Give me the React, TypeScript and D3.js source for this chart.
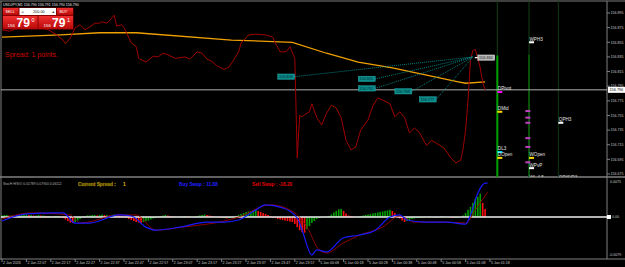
import React from "react";
import * as d3 from "d3";

// ---------- DATA ----------
const symbolTitle = "USDJPY,M1  156.790 156.791 156.790 156.790";
const bidPrice = "156.790";
const askPrice = "156.791";
const lotSize = "200.00";
const spreadText = "Spread: 1 points.";

// close line (bar index, price)
const priceBars = [0,3,7,11,15,19,22,25,26,28,30,32,34,36,38,40,41,43,45,46,47,49,50,51,53,55,56,59,62,64,66,68,71,75,77,80,82,84,86,88,91,93,95,97,98,100,101,104,108,111,112,114,116,117,118,120,121,122,123,124,126,127,129,131,133,135,137,139,141,143,145,147,150,152,154,156,159,161,163,165,167,169,171,174,176,178,181,184,186,188,189,190,191,192,193,194,195,196,197,198];
const priceClose = [156.872,156.870,156.875,156.877,156.876,156.872,156.866,156.858,156.853,156.861,156.875,156.879,156.872,156.876,156.881,156.881,156.883,156.881,156.888,156.892,156.877,156.879,156.875,156.868,156.854,156.849,156.833,156.828,156.836,156.835,156.840,156.838,156.833,156.835,156.832,156.842,156.840,156.832,156.829,156.823,156.818,156.821,156.831,156.842,156.854,156.861,156.865,156.866,156.865,156.862,156.854,156.842,156.842,156.844,156.849,156.833,156.697,156.755,156.753,156.756,156.760,156.771,156.752,156.742,156.758,156.769,156.765,156.752,156.721,156.708,156.712,156.735,156.749,156.768,156.779,156.776,156.771,156.753,156.760,156.752,156.731,156.738,156.732,156.714,156.721,156.717,156.711,156.697,156.690,156.694,156.710,156.735,156.776,156.831,156.844,156.845,156.833,156.820,156.800,156.790];

// moving average
const maBars = [0,24,40,55,94,119,133,146,160,174,187,190,198];
const maValues = [156.862,156.865,156.868,156.868,156.858,156.855,156.840,156.828,156.820,156.810,156.801,156.799,156.801];

const axisPrices = [156.895,156.875,156.855,156.835,156.815,156.795,156.775,156.755,156.735,156.715,156.695,156.675];
const currentPrice = 156.790;

const timeLabels = ["2 Jan 2026","2 Jan 22:07","2 Jan 22:17","2 Jan 22:27","2 Jan 22:37","2 Jan 22:47","2 Jan 22:57","2 Jan 23:07","2 Jan 23:17","2 Jan 23:27","2 Jan 23:37","2 Jan 23:47","2 Jan 23:57","5 Jan 00:08","5 Jan 00:18","5 Jan 00:28","5 Jan 00:38","5 Jan 00:48","5 Jan 00:58","5 Jan 01:08","5 Jan 01:18"];
const timeLabelBars = [0,10,20,30,40,50,60,70,80,90,100,110,120,130,140,150,160,170,180,190,200];

// teal fan labels
const fanBars = [113,146,146,161,171];
const fanPrices = [156.808,156.805,156.792,156.788,156.777];
const fanTargetBar = 193;
const fanTargetPrice = 156.835;
const markBar = 195;
const markPrice = 156.834;

// pivot levels
const pivotNames = ["DPivot","DMid","DL3","DOpen","WPH3","WOpen","WPvP","QPH3"];
const pivotPrices = [156.787,156.760,156.705,156.697,156.855,156.697,156.683,156.745];
const pivotCols = [203,203,203,203,216,216,216,228];
const pivotColors = ["#ff00ff","#ffd700","#00e5ff","#ffd700","#ffffff","#ffd700","#ffffff","#ffffff"];
const extraMarkPrices = [156.761,156.752,156.745,156.724,156.712,156.691];
const extraMarkCol = 214.5;
const separatorCols = [203,216,228];

// oscillator (units of 0.0001)
const oscHeader = "StocH H/S/O 0.01789 0.07900 0.06112";
const spreadLabel = "Current Spread :";
const spreadValue = "1";
const buySwap = "Buy Swap :  11.88";
const sellSwap = "Sell Swap :  -18.20";
const blueBars = [0,10,22,25,30,36,48,53,59,63,73,84,91,97,104,108,115,121,123,127,129,133,140,146,153,159,163,166,173,182,190,192,195,198,199];
const blueVals = [-8,6,8,8,-12,-12,4,2,-20,-26,-20,-10,-10,-6,14,24,18,-2,-26,-75,-65,-69,-41,-36,-26,0,4,-6,-10,-10,-14,4,47,67,67];
const redBars = [0,12,28,32,48,55,63,74,91,97,110,120,125,130,133,140,146,156,163,169,182,190,194,199];
const redVals = [-4,8,4,-12,4,4,-26,-20,-8,0,24,8,-20,-65,-71,-51,-37,-20,2,-10,-10,-12,14,49];
const histogram = [
  3,4,4,3,3,2,2,3,4,5,5,4,4,3,3,4,3,3,2,2,1,1,2,2,1,
  -2,-5,-8,-11,-12,-10,-7,-4,
  1,2,3,3,4,4,3,4,5,4,4,3,4,5,4,3,2,1,
  -2,-4,-6,-8,-10,-11,-12,
  -10,-8,-7,-5,-3,-2,
  1,2,3,4,3,2,1,1,0,1,1,2,1,1,0,1,
  2,3,4,5,4,3,2,1,0,
  -1,-2,-2,-3,-2,-1,0,
  2,4,6,8,10,11,12,13,14,
  12,10,8,6,4,2,
  -1,-2,-4,-5,-6,-7,-8,-9,-10,
  -14,-20,-26,-30,-31,
  -24,-18,-12,-8,-4,
  -2,-1,0,1,2,
  5,9,12,15,16,12,7,
  3,2,1,0,
  1,2,3,4,5,6,7,8,9,10,11,12,13,14,
  12,8,
  2,-3,-7,-10,-8,-6,-4,
  -3,-2,-2,-1,-1,0,1,0,-1,-1,0,1,1,0,0,-1,-2,-2,-1,0,
  3,8,14,20,28,36,40,46,28,16
];
const oscTopLabel = "0.0075";
const oscZeroLabel = "0.00";
const oscBottomLabel = "-0.0079";

const FONT = "'Liberation Sans', Arial, sans-serif";

export default function App() {
  const x = d3.scaleLinear().domain([0, 200]).range([2, 490]);
  const yP = d3.scaleLinear().domain([156.675, 156.895]).range([174, 13]);
  const yO = d3.scaleLinear().domain([-0.0079, 0.0075]).range([257, 179]);

  const priceLine = d3.line<number>().x((_, i) => x(priceBars[i])).y((d) => yP(d))(priceClose) || "";
  const maLine = d3.line<number>().x((_, i) => x(maBars[i])).y((d) => yP(d))(maValues) || "";
  const blueLine = d3.line<number>().x((_, i) => x(blueBars[i])).y((d) => yO(d * 1e-4)).curve(d3.curveMonotoneX)(blueVals) || "";
  const redLine = d3.line<number>().x((_, i) => x(redBars[i])).y((d) => yO(d * 1e-4)).curve(d3.curveMonotoneX)(redVals) || "";

  const axisX = 607;
  const mainBottom = 177;
  const zeroY = yO(0);

  return (
    <svg width={625} height={267} style={{ position: "fixed", left: 0, top: 0, display: "block", background: "#000" }} fontFamily={FONT}>
      <defs>
        <clipPath id="mainClip"><rect x={1} y={1} width={606} height={176} /></clipPath>
        <clipPath id="oscClip"><rect x={1} y={179} width={606} height={79} /></clipPath>
        <linearGradient id="redGrad" x1="0" y1="0" x2="0" y2="1">
          <stop offset="0" stopColor="#f03030" />
          <stop offset="1" stopColor="#b80808" />
        </linearGradient>
      </defs>
      <rect x={0} y={0} width={625} height={267} fill="#000" />

      {/* frame */}
      <line x1={0} x2={625} y1={1} y2={1} stroke="#555" strokeWidth={1.5} />
      <line x1={1} x2={1} y1={1} y2={259} stroke="#808080" strokeWidth={1} />
      <line x1={axisX} x2={axisX} y1={1} y2={259} stroke="#808080" strokeWidth={1} />
      <line x1={0} x2={625} y1={mainBottom} y2={mainBottom} stroke="#808080" strokeWidth={1.5} />
      <line x1={0} x2={625} y1={259} y2={259} stroke="#808080" strokeWidth={1} />

      {/* price axis */}
      {axisPrices.map((p, i) => (
        <g key={"pa" + i}>
          <line x1={axisX} x2={axisX + 3} y1={yP(p)} y2={yP(p)} stroke="#808080" />
          <text x={axisX + 3.5} y={yP(p) + 1.3} fontSize={3.6} fill="#c8c8c8">{p.toFixed(3)}</text>
        </g>
      ))}

      <g clipPath="url(#mainClip)">
        {/* separators */}
        {separatorCols.map((c, i) => (
          <line key={"sep" + i} x1={x(c)} x2={x(c)} y1={1} y2={mainBottom} stroke={i === 2 ? "#0c3a0c" : "#124012"} strokeWidth={1} />
        ))}
        <line x1={x(separatorCols[0])} x2={x(separatorCols[0])} y1={yP(156.837)} y2={mainBottom} stroke="#00a000" strokeWidth={2} />
        <line x1={x(separatorCols[1])} x2={x(separatorCols[1])} y1={yP(156.838)} y2={mainBottom} stroke="#0a700a" strokeWidth={1.3} />

        {/* current price line */}
        <line x1={1} x2={axisX} y1={yP(currentPrice)} y2={yP(currentPrice)} stroke="#b0b0b0" strokeWidth={1} />

        {/* price and MA */}
        <path d={maLine} fill="none" stroke="#f0a000" strokeWidth={1.3} />
        <path d={priceLine} fill="none" stroke="#a00000" strokeWidth={1} />

        {/* teal fan */}
        {fanBars.map((b, i) => {
          const bx = x(b);
          const by = yP(fanPrices[i]);
          return (
            <g key={"fan" + i}>
              <line x1={bx + 17} y1={by} x2={x(fanTargetBar)} y2={yP(fanTargetPrice)} stroke="#00a0a0" strokeWidth={0.8} strokeDasharray="1,1" />
              <rect x={bx} y={by - 2.7} width={17} height={5.4} fill="#0a8c8c" stroke="#30b0b0" strokeWidth={0.4} />
              <text x={bx + 1.2} y={by + 1.3} fontSize={3.8} fill="#002a2a">{fanPrices[i].toFixed(3)}</text>
            </g>
          );
        })}
        <line x1={x(markBar) - 3} x2={x(markBar)} y1={yP(markPrice)} y2={yP(markPrice)} stroke="#ffffff" strokeWidth={1.2} />
        <rect x={x(markBar)} y={yP(markPrice) - 2.7} width={17} height={5.4} fill="#b8b8b8" stroke="#e0e0e0" strokeWidth={0.4} />
        <text x={x(markBar) + 1.2} y={yP(markPrice) + 1.3} fontSize={3.8} fill="#202020">{markPrice.toFixed(3)}</text>

        {/* pivots */}
        {extraMarkPrices.map((p, i) => (
          <rect key={"em" + i} x={x(extraMarkCol)} y={yP(p) - 1} width={5} height={2} fill="#c040c0" />
        ))}
        {pivotNames.map((n, i) => (
          <g key={"pv" + i}>
            <rect x={x(pivotCols[i])} y={yP(pivotPrices[i]) - 1} width={5} height={2} fill={pivotColors[i]} />
            <text x={x(pivotCols[i]) + 0.5} y={yP(pivotPrices[i]) - 1.6} fontSize={4.6} fill="#e0e0e0">{n}</text>
          </g>
        ))}
        <text x={x(216) + 0.5} y={179} fontSize={4.6} fill="#d0d0d0">WL 4.5</text>
        <text x={x(228) + 0.5} y={179} fontSize={4.6} fill="#d0d0d0">QR/S/R3</text>

        {/* spread */}
        <text x={5} y={57} fontSize={7} fill="#d00000">{spreadText}</text>

        {/* title */}
        <text x={3} y={5.5} fontSize={3.6} fill="#e8e8e8">{symbolTitle}</text>

        {/* trading panel */}
        <rect x={2.5} y={7.5} width={71} height={22} fill="#8a0000" />
        <rect x={3} y={8} width={15.5} height={7} fill="url(#redGrad)" />
        <text x={5.5} y={12.8} fontSize={3.8} fill="#fff">SELL</text>
        <rect x={19.5} y={8} width={36.5} height={7} fill="#fff" />
        <text x={21.5} y={12.8} fontSize={3.8} fill="#333">=</text>
        <text x={33} y={12.8} fontSize={3.8} fill="#111">{lotSize}</text>
        <text x={51.5} y={12.8} fontSize={3.6} fill="#333">▲</text>
        <rect x={57} y={8} width={16} height={7} fill="url(#redGrad)" />
        <text x={59.5} y={12.8} fontSize={3.8} fill="#fff">BUY</text>
        <rect x={3} y={16} width={34.5} height={13} fill="url(#redGrad)" />
        <rect x={38.5} y={16} width={34.5} height={13} fill="url(#redGrad)" />
        <text x={7.5} y={26.5} fontSize={4.4} fill="#fff">{bidPrice.slice(0, 3)}</text>
        <text x={16.5} y={27} fontSize={12} fontWeight="bold" fill="#fff">{bidPrice.slice(4, 6)}</text>
        <text x={31.5} y={21.5} fontSize={5.5} fill="#fff">{bidPrice.slice(6)}</text>
        <text x={43.5} y={26.5} fontSize={4.4} fill="#fff">{askPrice.slice(0, 3)}</text>
        <text x={52} y={27} fontSize={12} fontWeight="bold" fill="#fff">{askPrice.slice(4, 6)}</text>
        <text x={67} y={21.5} fontSize={5.5} fill="#fff">{askPrice.slice(6)}</text>
      </g>

      {/* current price box */}
      <rect x={axisX + 1} y={yP(currentPrice) - 3} width={17} height={6} fill="#ffffff" />
      <text x={axisX + 2.5} y={yP(currentPrice) + 1.3} fontSize={3.8} fill="#000">{currentPrice.toFixed(3)}</text>

      {/* oscillator */}
      <g clipPath="url(#oscClip)">
        {histogram.map((v, i) => {
          const prev = i === 0 ? v - 1 : histogram[i - 1];
          const col = v >= prev ? "#00a000" : "#ff1010";
          const y0 = yO(0);
          const y1 = yO(v * 1e-4);
          return <rect key={"h" + i} x={x(i) - 0.8} width={1.6} y={Math.min(y0, y1)} height={Math.abs(y1 - y0)} fill={col} />;
        })}
        <line x1={1} x2={axisX} y1={zeroY} y2={zeroY} stroke="#f0f0f0" strokeWidth={1.3} />
        <path d={redLine} fill="none" stroke="#a00000" strokeWidth={0.9} />
        <path d={blueLine} fill="none" stroke="#1a1aff" strokeWidth={1.2} />
      </g>
      <text x={3} y={185} fontSize={3.4} fill="#b0b0b0">{oscHeader}</text>
      <text x={78} y={185.5} fontSize={4.8} fontWeight="bold" fill="#e0c000" stroke="#6a5a00" strokeWidth={0.3}>{spreadLabel}</text>
      <text x={123} y={185.5} fontSize={4.8} fontWeight="bold" fill="#e0c000">{spreadValue}</text>
      <text x={179} y={185.5} fontSize={4.8} fontWeight="bold" fill="#2020ff">{buySwap}</text>
      <text x={252} y={185.5} fontSize={4.8} fontWeight="bold" fill="#e00000">{sellSwap}</text>

      <text x={axisX + 3} y={183} fontSize={3.6} fill="#c8c8c8">{oscTopLabel}</text>
      <rect x={axisX} y={zeroY - 2} width={4} height={4} fill="#ffffff" />
      <text x={axisX + 5} y={zeroY + 1.3} fontSize={3.6} fill="#c8c8c8">{oscZeroLabel}</text>
      <text x={axisX + 2} y={256} fontSize={3.6} fill="#c8c8c8">{oscBottomLabel}</text>

      {/* time axis */}
      {timeLabels.map((t, i) => (
        <g key={"t" + i}>
          <line x1={x(timeLabelBars[i])} x2={x(timeLabelBars[i])} y1={259} y2={262} stroke="#808080" />
          <text x={x(timeLabelBars[i]) + 1} y={264} fontSize={3.6} fill="#c8c8c8">{t}</text>
        </g>
      ))}
    </svg>
  );
}
